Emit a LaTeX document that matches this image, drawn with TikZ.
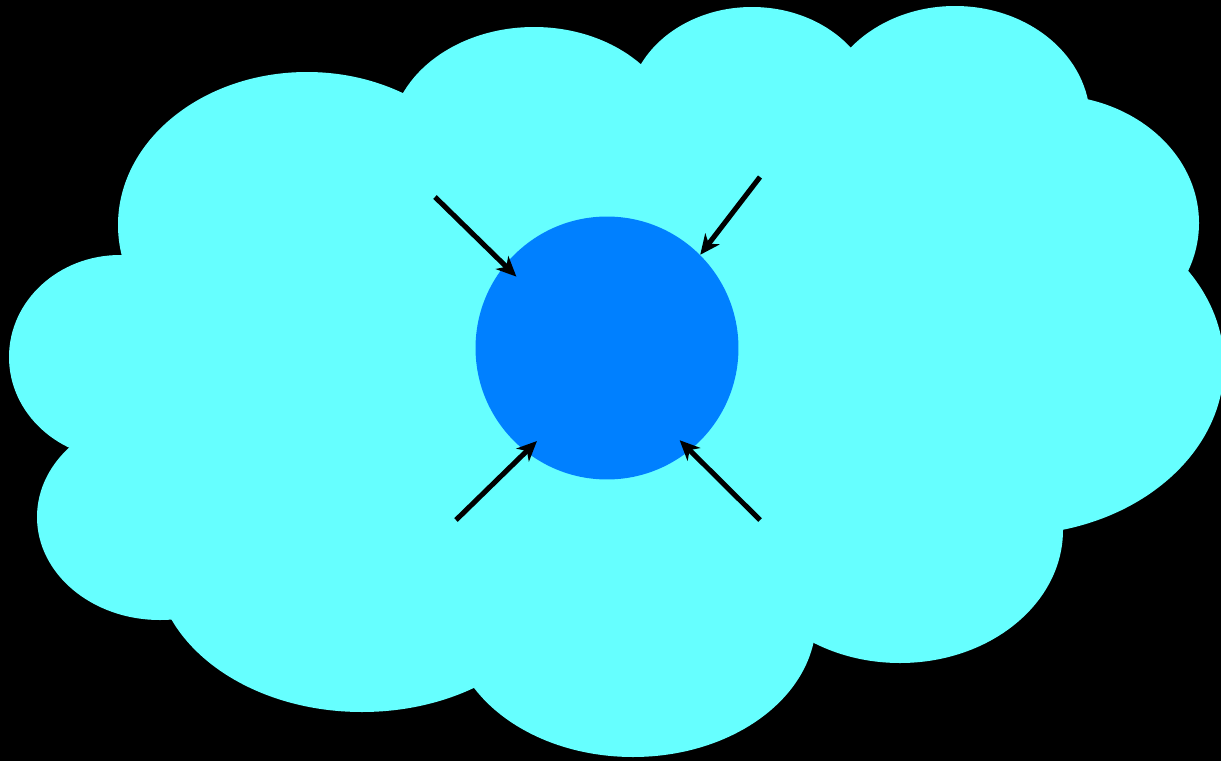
\documentclass[tikz,border=0pt]{standalone}
\usepackage{tikz}
\usetikzlibrary{arrows.meta,shapes,calc}
\usepackage{xcolor}

\definecolor{cloudcyan}{RGB}{102,255,255}
\definecolor{coreblue}{RGB}{0,128,255}

\begin{document}
\begin{tikzpicture}[x=0.02cm, y=-0.02cm,
		cloud/.style={fill=cloudcyan},
		push/.style={line width=2.9pt, -{Stealth[length=4mm, width=3.6mm, inset=1.2mm]}}]

		% === figure bounds ===
		\def\wmax{1221}	\def\hmax{761}
		\useasboundingbox (0,0) rectangle (\wmax,\hmax);
		\clip (0,0) rectangle (\wmax,\hmax);
		\fill[black] (0,0) rectangle (\wmax,\hmax);

		% === Cloud: puffs x/y/rx/ry ===
		\fill[cloud] (615,380) ellipse [x radius=425, y radius=255];	% filler
		\foreach \cx/\cy/\rx/\ry in {307/225/189/153, 534/140/144/113, 752/110/124/103,
				955/120/135/114, 1049/223/150/128, 1010/365/214/170, 900/530/163/133,
				633/620/183/137, 362/560/207/152, 160/517/123/103, 120/357/111/102} {
			\fill[cloud] (\cx,\cy) ellipse [x radius=\rx, y radius=\ry];
		}

		% === Core ===
		\node[circle, fill=coreblue, minimum size=5.26cm, inner sep=0pt] (core) at (607,348) {};

		% === Arrows ===
		\coordinate (tl) at (435,197);
		\coordinate (tr) at (760,177);
		\coordinate (bl) at (456,520);
		\coordinate (br) at (760,520);
		\foreach \from/\ang/\ext in {tl/141/0.33cm, tr/45/0cm, bl/232/0.31cm, br/309/0.29cm} {
			\draw[push, shorten >=-\ext] (\from) -- (core.\ang);
		}
	\end{tikzpicture}
\end{document}
